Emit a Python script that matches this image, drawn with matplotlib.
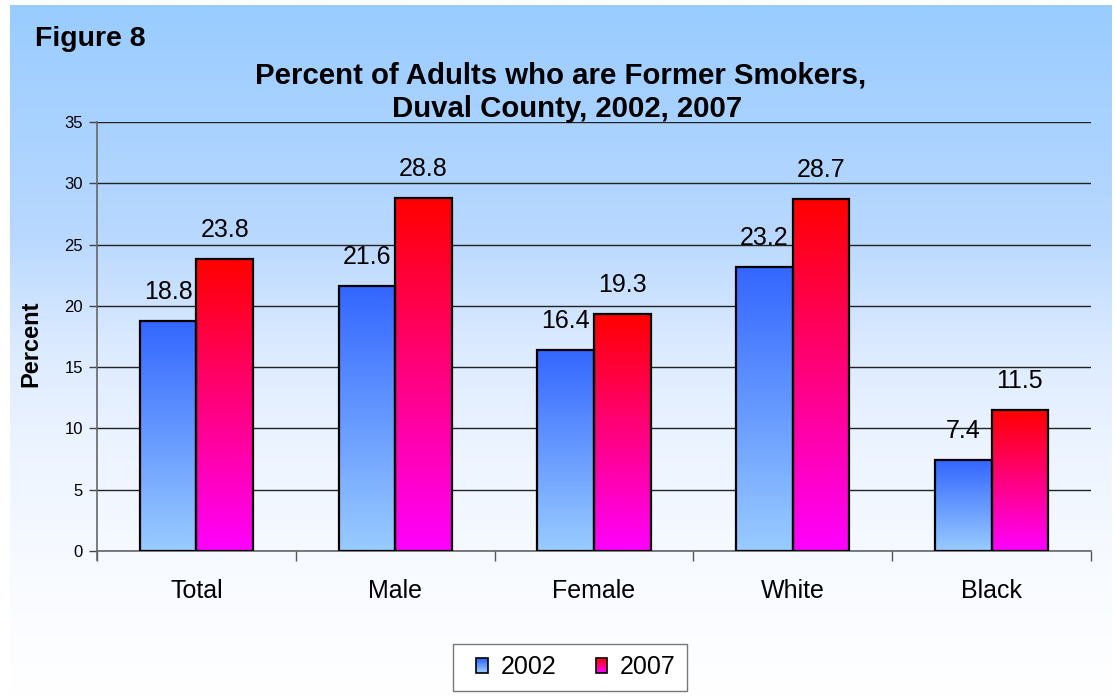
import numpy as np
import matplotlib
matplotlib.use("Agg")
import matplotlib.pyplot as plt
from matplotlib.patches import Rectangle
from matplotlib.colors import LinearSegmentedColormap, to_rgb
from matplotlib.legend_handler import HandlerBase

plt.rcParams['font.family'] = ['Liberation Sans', 'DejaVu Sans']

categories = ["Total", "Male", "Female", "White", "Black"]
years = ["2002", "2007"]
values_2002 = [18.8, 21.6, 16.4, 23.2, 7.4]
values_2007 = [23.8, 28.8, 19.3, 28.7, 11.5]
y_ticks = [0, 5, 10, 15, 20, 25, 30, 35]

# gradient end colours (top, bottom) for each series
grad_2002 = ("#3366FF", "#99CCFF")
grad_2007 = ("#FF0000", "#FF00FF")

W, H = 1115, 696
fig = plt.figure(figsize=(W / 100, H / 100), dpi=100)
fig.patch.set_facecolor("white")

# background panel with vertical gradient (white at the bottom, light blue at the top)
bg = fig.add_axes([10 / W, 0, 1102 / W, 1 - 5 / H], zorder=0)
bg_cmap = LinearSegmentedColormap.from_list(
    "bg", [(0.0, "#FFFFFF"), (0.17, "#F8FBFF"), (0.34, "#EEF5FF"),
           (0.5, "#DDEBFF"), (0.67, "#B8D8FF"), (1.0, "#99CCFF")])
bg.imshow(np.linspace(0, 1, 256).reshape(-1, 1), aspect="auto", cmap=bg_cmap,
          origin="lower", extent=[0, 1, 0, 1])
bg.set_axis_off()

ax = fig.add_axes([97 / W, 1 - 551 / H, (1091 - 97) / W, (551 - 122) / H], zorder=1)
ax.patch.set_alpha(0)

n = len(categories)
x = np.arange(n)
bw = 0.285
label_gap = 1.8


def gradient_bar(ax, xc, height, colors):
    cmap = LinearSegmentedColormap.from_list("g", [colors[1], colors[0]])
    left = xc - bw / 2
    img = ax.imshow(np.linspace(0, 1, 256).reshape(-1, 1), aspect="auto", cmap=cmap,
                    origin="lower", extent=[left, left + bw, 0, height], zorder=2)
    rect = Rectangle((left, 0), bw, height, facecolor="none", edgecolor="black",
                     linewidth=1.6, zorder=3)
    ax.add_patch(rect)
    img.set_clip_path(rect)


for i in range(n):
    gradient_bar(ax, x[i] - bw / 2, values_2002[i], grad_2002)
    gradient_bar(ax, x[i] + bw / 2, values_2007[i], grad_2007)
    ax.text(x[i] - bw / 2, values_2002[i] + label_gap, f"{values_2002[i]:.1f}",
            ha="center", va="baseline", fontsize=18, zorder=4)
    ax.text(x[i] + bw / 2, values_2007[i] + label_gap, f"{values_2007[i]:.1f}",
            ha="center", va="baseline", fontsize=18, zorder=4)

ax.set_xlim(-0.5, n - 0.5)
ax.set_ylim(0, 35)
ax.set_yticks(y_ticks)
ax.set_yticklabels([str(t) for t in y_ticks], fontsize=12)
ax.yaxis.grid(True, color="#222222", linewidth=1.0, zorder=1)
ax.set_axisbelow(True)

ax.set_xticks(x)
ax.set_xticklabels(categories, fontsize=18)
ax.set_xticks(np.arange(n + 1) - 0.5, minor=True)
ax.tick_params(axis="x", which="major", length=0, pad=20)
ax.tick_params(axis="x", which="minor", length=7, width=1.0, color="#555555")
ax.tick_params(axis="y", length=6, width=1.0, color="#444444", pad=4)

for s in ["top", "right"]:
    ax.spines[s].set_visible(False)
ax.spines["left"].set_color("#666666")
ax.spines["bottom"].set_color("#666666")
ax.spines["left"].set_linewidth(1.2)
ax.spines["bottom"].set_linewidth(1.2)
ax.spines["left"].set_bounds(-0.75, 35)

fig.text(31 / W, 1 - 344 / H, "Percent", fontsize=17, fontweight="bold",
         rotation=90, ha="center", va="center")

fig.text(35 / W, 1 - 39 / H, "Figure 8", fontsize=20.5, fontweight="bold",
         ha="left", va="center")
fig.text(561 / W, 1 - 75 / H, "Percent of Adults who are Former Smokers,",
         fontsize=21.2, fontweight="bold", ha="center", va="center")
fig.text(567 / W, 1 - 109 / H, "Duval County, 2002, 2007",
         fontsize=21.2, fontweight="bold", ha="center", va="center")


class GradientHandler(HandlerBase):
    """Legend key: a small box filled with the series gradient."""

    def __init__(self, colors):
        super().__init__()
        self.colors = colors

    def create_artists(self, legend, orig_handle, xdescent, ydescent, width,
                       height, fontsize, trans):
        kw, kh = 8.0, 10.5
        x0 = -xdescent + width - kw
        y0 = -ydescent + (height - kh) / 2
        top = np.array(to_rgb(self.colors[0]))
        bot = np.array(to_rgb(self.colors[1]))
        arts = []
        steps = 12
        for k in range(steps):
            f = k / (steps - 1)
            c = bot * (1 - f) + top * f
            arts.append(Rectangle((x0, y0 + kh * k / steps), kw, kh / steps,
                                  facecolor=c, edgecolor="none", transform=trans))
        arts.append(Rectangle((x0, y0), kw, kh, facecolor="none",
                              edgecolor="black", linewidth=1.2, transform=trans))
        return arts


h1 = Rectangle((0, 0), 1, 1)
h2 = Rectangle((0, 0), 1, 1)
leg = fig.legend([h1, h2], years, loc="upper center", bbox_to_anchor=(570 / W, 1 - 644 / H),
                 ncol=2, fontsize=18, frameon=True, fancybox=False,
                 edgecolor="#777777", facecolor="white", framealpha=1,
                 handler_map={h1: GradientHandler(grad_2002), h2: GradientHandler(grad_2007)},
                 handlelength=0.92, handletextpad=0.52, columnspacing=1.1,
                 borderpad=0.45, borderaxespad=0)
leg.get_frame().set_linewidth(1.0)

fig.savefig("out.png", dpi=100, facecolor=fig.get_facecolor())
